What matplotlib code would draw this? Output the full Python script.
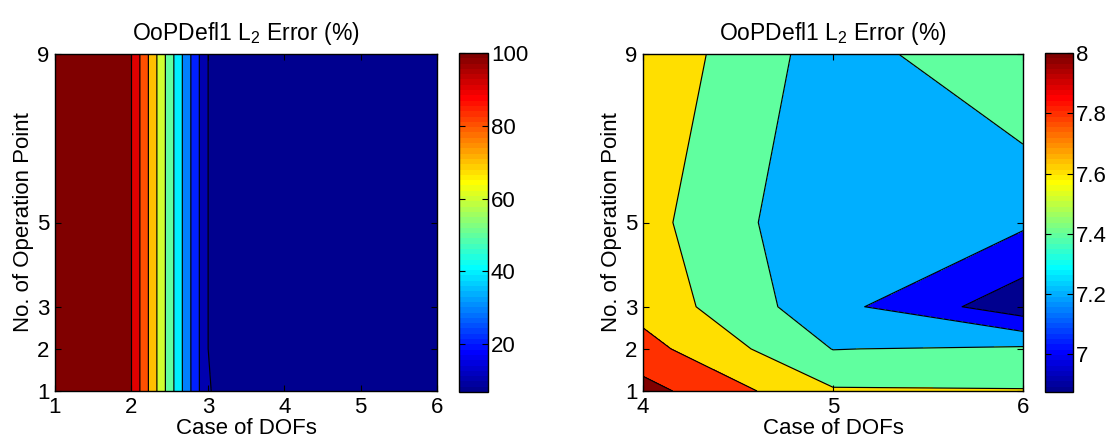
import numpy as np
import matplotlib
matplotlib.use("Agg")
import matplotlib.pyplot as plt
from matplotlib.colors import ListedColormap, Normalize
from matplotlib.cm import ScalarMappable

plt.rcParams['font.family'] = ['Liberation Sans', 'DejaVu Sans']
plt.rcParams['mathtext.fontset'] = 'custom'
plt.rcParams['mathtext.rm'] = 'Liberation Sans'
plt.rcParams['mathtext.it'] = 'Liberation Sans:italic'
plt.rcParams['mathtext.default'] = 'regular'

# ---- data ----
dofs = [1, 2, 3, 4, 5, 6]
op_points = [1, 2, 3, 5, 9]
# L2 error (%) rows: operation point, cols: case of DOFs
err_op1 = [100, 100, 10.09, 8.07, 7.62, 7.61]
err_op2 = [100, 100, 10.01, 7.87, 7.395, 7.43]
err_op3 = [100, 100, 10.01, 7.73, 7.265, 6.875]
err_op5 = [100, 100, 10.01, 7.67, 7.225, 7.235]
err_op9 = [100, 100, 10.01, 7.75, 7.30, 7.59]
levels_left = [10, 20, 30, 40, 50, 60, 70, 80, 90, 100]
levels_right = [7.0, 7.2, 7.4, 7.6, 7.8, 8.0]
cbar_ticks_left = [20, 40, 60, 80, 100]
cbar_ticks_right = [7.0, 7.2, 7.4, 7.6, 7.8, 8.0]
cbar_ticklabels_right = ['7', '7.2', '7.4', '7.6', '7.8', '8']
right_dofs = [4, 5, 6]
title = 'OoPDefl1 L$_2$ Error (%)'
xlabel = 'Case of DOFs'
ylabel = 'No. of Operation Point'

Z = np.array([err_op1, err_op2, err_op3, err_op5, err_op9], dtype=float)


def matlab_jet(m=64):
    n = int(np.ceil(m / 4))
    u = np.concatenate([np.arange(1, n + 1) / n, np.ones(n - 1), np.arange(n, 0, -1) / n])
    g = int(np.ceil(n / 2)) - (1 if m % 4 == 1 else 0) + np.arange(1, len(u) + 1)
    r = g + n
    b = g - n
    g = g[g <= m]
    r = r[r <= m]
    b = b[b >= 1]
    J = np.zeros((m, 3))
    J[r - 1, 0] = u[:len(r)]
    J[g - 1, 1] = u[:len(g)]
    J[b - 1, 2] = u[-len(b):]
    return ListedColormap(J)


jet = matlab_jet(64)
FS = 16


def draw(ax, cax, x, z, levels, cticks, cticklabels, xticks):
    zmin, zmax = z.min(), z.max()
    top = levels[-1]
    norm = Normalize(zmin, top)
    lv = list(levels)
    lv[-1] = top - 1e-6 * (top - zmin)
    bounds = [zmin - 1e-9] + lv + [max(zmax, top) + 1.0]
    lower_vals = [zmin] + list(levels)
    colors = [jet(norm(v)) for v in lower_vals]
    X, Y = np.meshgrid(x, op_points)
    ax.contourf(X, Y, z, levels=bounds, colors=colors)
    ax.contour(X, Y, z, levels=lv, colors='k', linewidths=0.85)
    ax.set_xlim(x[0], x[-1])
    ax.set_ylim(op_points[0], op_points[-1])
    ax.set_xticks(xticks)
    ax.set_yticks(op_points)
    ax.tick_params(direction='in', top=True, right=True, length=4, width=0.8,
                   labelsize=FS, pad=4)
    for s in ax.spines.values():
        s.set_linewidth(1.0)
    ax.set_title(title, fontsize=16.5, pad=10)
    ax.set_xlabel(xlabel, fontsize=FS, labelpad=0)
    ax.set_ylabel(ylabel, fontsize=FS, labelpad=2)
    sm = ScalarMappable(norm=norm, cmap=jet)
    cb = plt.colorbar(sm, cax=cax)
    cb.set_ticks(cticks)
    if cticklabels is not None:
        cb.set_ticklabels(cticklabels)
    cb.outline.set_linewidth(1.0)
    cax.tick_params(direction='in', left=True, right=True, length=4, width=0.8,
                    labelsize=FS, pad=2)


fig = plt.figure(figsize=(11.13, 4.45), dpi=100)
# positions given as (left px, top px, width px, height px)
boxes = [(55, 54, 382, 337), (459, 53, 29, 339), (643, 54, 380, 337), (1045, 53, 28, 339)]
axes = [fig.add_axes([l / 1113, 1 - (t + h) / 445, w / 1113, h / 445]) for l, t, w, h in boxes]
ax1, cax1, ax2, cax2 = axes

draw(ax1, cax1, dofs, Z, levels_left, cbar_ticks_left, None, dofs)
idx = [dofs.index(d) for d in right_dofs]
draw(ax2, cax2, right_dofs, Z[:, idx], levels_right, cbar_ticks_right,
     cbar_ticklabels_right, right_dofs)

fig.savefig('out.png', dpi=100)
